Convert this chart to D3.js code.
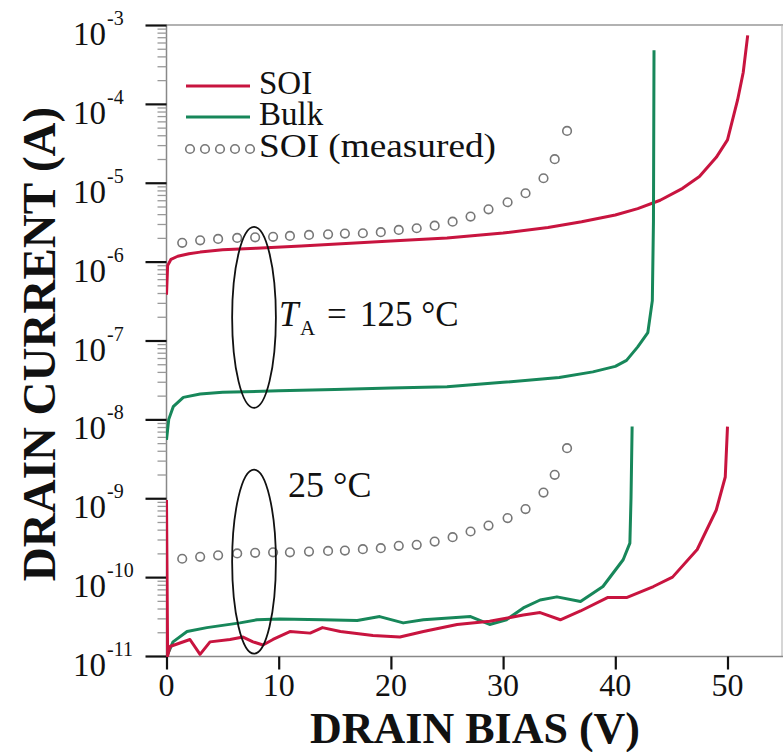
<!DOCTYPE html>
<html>
<head>
<meta charset="utf-8">
<script src="https://cdn.jsdelivr.net/npm/d3@7"></script>
<style>
  html, body { margin: 0; padding: 0; background: #fff; }
  svg { display: block; }
  text { font-family: "Liberation Serif", "DejaVu Serif", serif; fill: #111; }
</style>
</head>
<body>
<svg id="chart" width="783" height="752"></svg>
<script>
// ---------- DATA ----------
const xTicks = [0, 10, 20, 30, 40, 50];
const yTickExps = [-3, -4, -5, -6, -7, -8, -9, -10, -11];

// SOI simulation, T = 125 °C
const soi125V = [0, 0.1, 0.4, 1, 2, 3, 5, 8, 12, 16, 20, 25, 30, 34, 37, 40, 42, 44, 46, 47.5, 49, 50, 50.9, 51.4, 51.8];
const soi125I = [3.8e-7, 8.9e-7, 1.07e-6, 1.17e-6, 1.26e-6, 1.32e-6, 1.41e-6, 1.48e-6, 1.58e-6, 1.70e-6, 1.82e-6, 2.0e-6, 2.3e-6, 2.7e-6, 3.2e-6, 3.9e-6, 4.7e-6, 6.0e-6, 8.5e-6, 1.2e-5, 2.1e-5, 3.5e-5, 1.12e-4, 2.5e-4, 7.4e-4];

// Bulk simulation, T = 125 °C
const bulk125V = [0, 0.2, 0.6, 1.5, 3, 5, 10, 15, 20, 25, 30, 35, 38, 40, 41, 42, 42.9, 43.3, 43.4, 43.45];
const bulk125I = [5.5e-9, 1.0e-8, 1.45e-8, 1.9e-8, 2.1e-8, 2.2e-8, 2.3e-8, 2.4e-8, 2.5e-8, 2.6e-8, 2.95e-8, 3.4e-8, 4.0e-8, 4.7e-8, 5.6e-8, 8.3e-8, 1.26e-7, 3.2e-7, 3.2e-6, 4.8e-4];

// SOI simulation, T = 25 °C
const soi25V = [0, 0.1, 0.31, 2.09, 2.99, 3.88, 5.66, 6.82, 7.71, 8.6, 9.49, 11.0, 12.8, 13.9, 15.5, 18.4, 20.8, 22.9, 25.9, 28.8, 31.8, 33.3, 35.1, 36.9, 39.3, 41.0, 43.4, 45.1, 47.3, 49.0, 49.8, 50.0];
const soi25I = [9.5e-10, 1.0e-11, 1.32e-11, 1.62e-11, 1.05e-11, 1.51e-11, 1.62e-11, 1.74e-11, 1.51e-11, 1.38e-11, 1.62e-11, 2.04e-11, 1.95e-11, 2.29e-11, 2.04e-11, 1.82e-11, 1.74e-11, 2.04e-11, 2.51e-11, 2.75e-11, 3.31e-11, 3.55e-11, 2.88e-11, 3.72e-11, 5.5e-11, 5.5e-11, 7.6e-11, 1.0e-10, 2.24e-10, 7.1e-10, 1.86e-9, 8.1e-9];

// Bulk simulation, T = 25 °C
const bulk25V = [0.04, 0.58, 1.83, 3.6, 6.55, 8.07, 10.1, 13.9, 17.0, 19.0, 21.1, 22.9, 27.1, 28.8, 30.3, 31.8, 33.3, 34.8, 36.9, 38.9, 40.7, 41.3, 41.4, 41.5];
const bulk25I = [1.0e-11, 1.51e-11, 2.04e-11, 2.29e-11, 2.63e-11, 2.88e-11, 2.95e-11, 2.88e-11, 2.82e-11, 3.16e-11, 2.63e-11, 2.88e-11, 3.16e-11, 2.51e-11, 2.88e-11, 4.07e-11, 5.13e-11, 5.62e-11, 4.9e-11, 7.6e-11, 1.66e-10, 2.7e-10, 1.0e-9, 8.1e-9];

// SOI measured (circles)
const measV = [1.4, 3.0, 4.6, 6.3, 7.9, 9.5, 11.0, 12.7, 14.4, 15.9, 17.5, 19.1, 20.7, 22.3, 23.9, 25.5, 27.1, 28.7, 30.4, 32.0, 33.6, 34.6, 35.7];
const meas125I = [1.73e-6, 1.86e-6, 1.94e-6, 2.0e-6, 2.03e-6, 2.06e-6, 2.12e-6, 2.18e-6, 2.22e-6, 2.27e-6, 2.29e-6, 2.36e-6, 2.52e-6, 2.65e-6, 2.86e-6, 3.21e-6, 3.72e-6, 4.61e-6, 5.66e-6, 7.36e-6, 1.14e-5, 1.99e-5, 4.54e-5];
const meas25I = [1.71e-10, 1.81e-10, 1.89e-10, 2.0e-10, 2.03e-10, 2.06e-10, 2.06e-10, 2.11e-10, 2.15e-10, 2.17e-10, 2.26e-10, 2.33e-10, 2.49e-10, 2.57e-10, 2.82e-10, 3.21e-10, 3.79e-10, 4.51e-10, 5.6e-10, 7.28e-10, 1.18e-9, 1.98e-9, 4.31e-9];

// Annotation ellipses (temperature groups)
const ellipseV = [7.8, 7.8];
const ellipseHalfV = [1.95, 1.95];
const ellipseTopI = [2.75e-6, 2.3e-9];
const ellipseBotI = [1.4e-8, 1.07e-11];

const legendLabels = ["SOI", "Bulk", "SOI (measured)"];

// ---------- DRAWING ----------
const RED = "#c8143f";
const GREEN = "#17875a";
const svg = d3.select("#chart");

const x = d3.scaleLinear().domain([0, 55]).range([166.5, 783.6]);
const y = d3.scaleLog().domain([1e-11, 1e-3]).range([656, 25]);

svg.append("defs").append("clipPath").attr("id", "plotclip")
  .append("rect").attr("x", 166).attr("y", 20).attr("width", 620).attr("height", 637);

// frame
svg.append("line").attr("x1", 166).attr("x2", 783).attr("y1", 25).attr("y2", 25)
  .attr("stroke", "#999").attr("stroke-width", 1.5);
svg.append("line").attr("x1", 782).attr("x2", 782).attr("y1", 25).attr("y2", 656)
  .attr("stroke", "#bbb").attr("stroke-width", 1.2);
svg.append("line").attr("x1", 166).attr("x2", 783).attr("y1", 656.5).attr("y2", 656.5)
  .attr("stroke", "#888").attr("stroke-width", 1.5);
svg.append("line").attr("x1", 166.5).attr("x2", 166.5).attr("y1", 25).attr("y2", 657)
  .attr("stroke", "#888").attr("stroke-width", 1.5);

// y minor ticks
const minors = [];
yTickExps.forEach(e => { if (e > -11) for (let k = 2; k <= 9; k++) minors.push(k * Math.pow(10, e - 1)); });
const yMinor = svg.append("g").attr("transform", "translate(166.5,0)")
  .call(d3.axisLeft(y).tickValues(minors).tickSize(9).tickFormat(""));
yMinor.select(".domain").remove();
yMinor.selectAll(".tick line").attr("stroke", "#999").attr("stroke-width", 1.3);

// y major ticks
const majors = yTickExps.map(e => Math.pow(10, e));
const yMajor = svg.append("g").attr("transform", "translate(166.5,0)")
  .call(d3.axisLeft(y).tickValues(majors).tickSize(21).tickFormat(""));
yMajor.select(".domain").remove();
yMajor.selectAll(".tick line").attr("stroke", "#111").attr("stroke-width", 2.2);

// y labels 10^e
yTickExps.forEach(e => {
  const yy = y(Math.pow(10, e));
  const t = svg.append("text").attr("x", 73).attr("y", yy + 20).attr("font-size", 33);
  t.append("tspan").text("10");
  t.append("tspan").attr("font-size", 20).attr("dy", -20).attr("dx", 1).text("-" + Math.abs(e));
});

// x ticks
const xAx = svg.append("g").attr("transform", "translate(0,656.5)")
  .call(d3.axisBottom(x).tickValues(xTicks).tickSize(13).tickFormat(""));
xAx.select(".domain").remove();
xAx.selectAll(".tick line").attr("stroke", "#111").attr("stroke-width", 2.2);
xTicks.forEach(v => {
  svg.append("text").attr("x", x(v)).attr("y", 696).attr("text-anchor", "middle")
    .attr("font-size", 32).text(v);
});

// axis titles
svg.append("text").attr("x", 475).attr("y", 742.5).attr("text-anchor", "middle")
  .attr("font-size", 44).attr("font-weight", "bold").text("DRAIN BIAS (V)");
svg.append("text").attr("transform", "translate(55,344) rotate(-90)")
  .attr("text-anchor", "middle").attr("font-size", 47).attr("font-weight", "bold")
  .text("DRAIN CURRENT (A)");

// curves
const plot = svg.append("g").attr("clip-path", "url(#plotclip)");
const line = d3.line().x(d => x(d[0])).y(d => y(d[1]));
const zip = (a, b) => a.map((v, i) => [v, b[i]]);
const series = [
  [soi125V, soi125I, RED],
  [bulk125V, bulk125I, GREEN],
  [bulk25V, bulk25I, GREEN],
  [soi25V, soi25I, RED]
];
series.forEach(([vs, is, c]) => {
  plot.append("path").attr("d", line(zip(vs, is))).attr("fill", "none")
    .attr("stroke", c).attr("stroke-width", 3).attr("stroke-linejoin", "round");
});

// measured circles
[meas125I, meas25I].forEach(arr => {
  plot.selectAll(null).data(zip(measV, arr)).enter().append("circle")
    .attr("cx", d => x(d[0])).attr("cy", d => y(d[1])).attr("r", 4.3)
    .attr("fill", "none").attr("stroke", "#777").attr("stroke-width", 1.6);
});

// ellipses
ellipseV.forEach((v, i) => {
  const yt = y(ellipseTopI[i]), yb = y(ellipseBotI[i]);
  plot.append("ellipse").attr("cx", x(v)).attr("cy", (yt + yb) / 2)
    .attr("rx", x(v + ellipseHalfV[i]) - x(v)).attr("ry", (yb - yt) / 2)
    .attr("fill", "none").attr("stroke", "#111").attr("stroke-width", 1.8);
});

// annotations
const ta = svg.append("text").attr("y", 326).attr("font-size", 35);
ta.append("tspan").attr("x", 279).attr("font-style", "italic").text("T");
ta.append("tspan").attr("x", 300).attr("dy", 9).attr("font-size", 21).text("A");
ta.append("tspan").attr("x", 327).attr("dy", -9).text("=");
ta.append("tspan").attr("x", 360).text("125 °C");
svg.append("text").attr("x", 288).attr("y", 497).attr("font-size", 36).text("25 °C");

// legend
const legY = [86, 117, 149];
svg.append("line").attr("x1", 186).attr("x2", 250).attr("y1", legY[0]).attr("y2", legY[0])
  .attr("stroke", RED).attr("stroke-width", 3);
svg.append("line").attr("x1", 186).attr("x2", 250).attr("y1", legY[1]).attr("y2", legY[1])
  .attr("stroke", GREEN).attr("stroke-width", 3);
[190, 205, 220, 235, 250].forEach(cx => {
  svg.append("circle").attr("cx", cx).attr("cy", legY[2]).attr("r", 4.3)
    .attr("fill", "none").attr("stroke", "#777").attr("stroke-width", 1.6);
});
legendLabels.forEach((s, i) => {
  const t = svg.append("text").attr("x", 259).attr("y", legY[i] + 8).attr("font-size", 33).text(s);
  if (i === 2) t.attr("textLength", 237).attr("lengthAdjust", "spacingAndGlyphs");
});
</script>
</body>
</html>
